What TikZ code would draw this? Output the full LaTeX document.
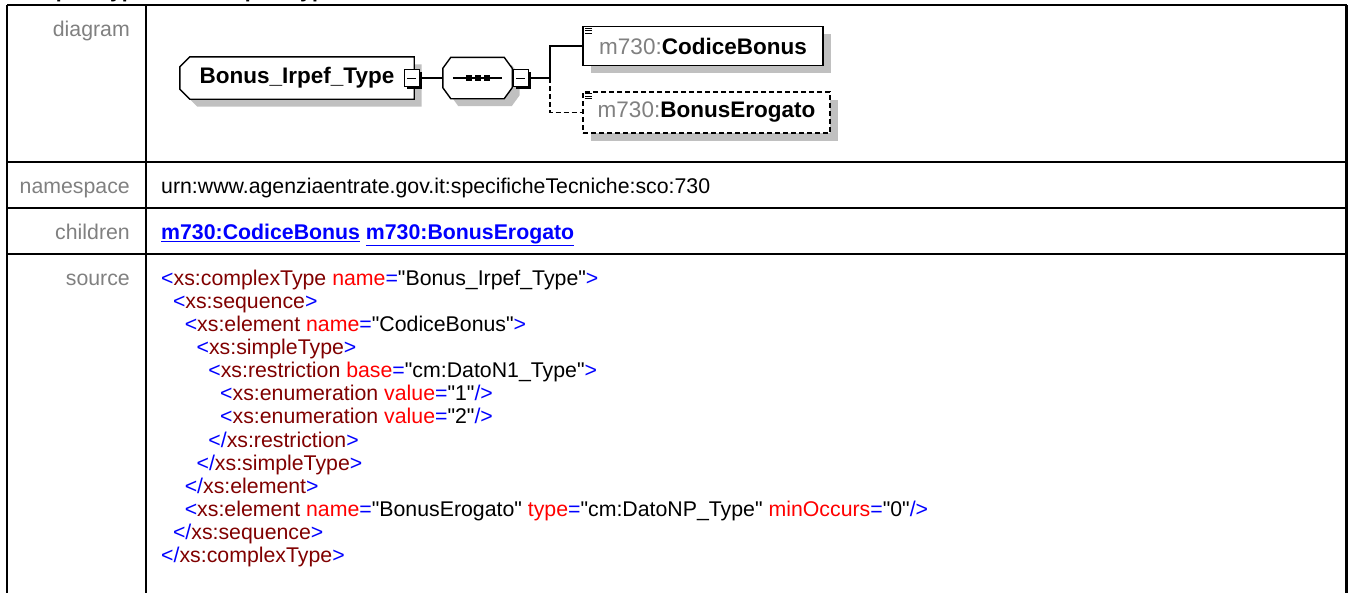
\documentclass[tikz,border=0pt]{standalone}
\usepackage{fontspec}
\newfontfamily\arialf{Liberation Sans}
\usetikzlibrary{positioning,shadows,backgrounds}

\definecolor{lblgray}{HTML}{808080}
\definecolor{tagred}{HTML}{800000}
\definecolor{attred}{HTML}{FF0000}
\definecolor{xmlblue}{HTML}{0000FF}
\definecolor{shade}{HTML}{C0C0C0}

\newcommand\tabfont{\arialf\fontsize{21.3}{23.15}\selectfont}
\newcommand\dgmfont{\arialf\fontsize{22.5}{27}\selectfont}
\newcommand\xp[1]{\textcolor{xmlblue}{#1}}
\newcommand\xt[1]{\textcolor{tagred}{#1}}
\newcommand\xa[1]{\textcolor{attred}{#1}}
\newlength\indw
\setlength\indw{11.8pt}
\newcommand\ind[1]{\hspace*{#1\indw}}
\newcommand\lnk[1]{\textcolor{xmlblue}{\bfseries\underline{#1}}}

\begin{document}
\begin{tikzpicture}[x=1pt, y=-1pt,
    grid/.style={line width=2.4pt},
    lbl/.style={anchor=base east, inner sep=0pt, text=lblgray, font=\tabfont},
    cell/.style={anchor=base west, inner sep=0pt, font=\tabfont, align=left},
    shd/.style={drop shadow={shadow xshift=7.5pt, shadow yshift=-7.5pt, fill=shade, opacity=1}},
    outline/.style={draw, line width=1.4pt, fill=white, shd},
    ctbox/.style={rectangle, font=\dgmfont\bfseries, minimum width=234pt, minimum height=42pt, inner sep=0pt},
    seqbox/.style={rectangle, minimum width=69pt, minimum height=41pt, inner sep=0pt},
    toggle/.style={rectangle, draw, line width=1pt, fill=white, minimum width=15pt, minimum height=17pt,
      inner sep=0pt, drop shadow={shadow xshift=2.5pt, shadow yshift=-2.5pt, fill=black, opacity=1}},
    elem/.style={rectangle, draw, line width=1.6pt, fill=white, shd, font=\dgmfont\bfseries,
      minimum height=39pt, inner sep=0pt},
    optional/.style={dash pattern=on 5pt off 3pt},
    conn/.style={line width=1.6pt}
  ]
    \useasboundingbox (0,0) rectangle (1348,592);

    % table
    \draw[grid] (7,5) -- (1346.5,5);
    \foreach \x in {7,146,1346.5} \draw[grid] (\x,5) -- (\x,595);
    \foreach \y in {162,208,254} \draw[grid] (7,\y) -- (1346.5,\y);

    \node[cell, font=\tabfont\bfseries] (hd) at (12,-2.5) {complexType Bonus\_Irpef\_Type};

    \node[lbl] (ldgm) at (130,36)    {diagram};
    \node[lbl] (lns)  at (130,193.3) {namespace};
    \node[lbl] (lch)  at (130,239.3) {children};
    \node[lbl] (lsrc) at (130,285)   {source};

    \node[cell] (ns) at (161,193.3) {urn:www.agenziaentrate.gov.it:specificheTecniche:sco:730};
    \node[cell] (ch) at (161,239.3) {\lnk{m730:CodiceBonus} \lnk{m730:BonusErogato}};

    % multi-line node: base is the last line
    \node[cell] (src) at (161,562.8) {%
      \xp{<}\xt{xs:complexType} \xa{name}\xp{=}"Bonus\_Irpef\_Type"\xp{>}\\
      \ind1\xp{<}\xt{xs:sequence}\xp{>}\\
      \ind2\xp{<}\xt{xs:element} \xa{name}\xp{=}"CodiceBonus"\xp{>}\\
      \ind3\xp{<}\xt{xs:simpleType}\xp{>}\\
      \ind4\xp{<}\xt{xs:restriction} \xa{base}\xp{=}"cm:DatoN1\_Type"\xp{>}\\
      \ind5\xp{<}\xt{xs:enumeration} \xa{value}\xp{=}"1"\xp{/>}\\
      \ind5\xp{<}\xt{xs:enumeration} \xa{value}\xp{=}"2"\xp{/>}\\
      \ind4\xp{</}\xt{xs:restriction}\xp{>}\\
      \ind3\xp{</}\xt{xs:simpleType}\xp{>}\\
      \ind2\xp{</}\xt{xs:element}\xp{>}\\
      \ind2\xp{<}\xt{xs:element} \xa{name}\xp{=}"BonusErogato" \xa{type}\xp{=}"cm:DatoNP\_Type" \xa{minOccurs}\xp{=}"0"\xp{/>}\\
      \ind1\xp{</}\xt{xs:sequence}\xp{>}\\
      \xp{</}\xt{xs:complexType}\xp{>}};

    % diagram
    \coordinate (jn) at (550,78);
    \node[ctbox] (ct) at (297,78) {Bonus\_Irpef\_Type\hspace{15pt}};
    \node[seqbox] (seq) at (477.5,78) {};
    \begin{scope}[on background layer]
      \path[outline] ([xshift=10pt]ct.north west) -- (ct.north east) -- (ct.south east)
        -- ([xshift=10pt]ct.south west) -- ([yshift=10pt]ct.south west)
        -- ([yshift=-10pt]ct.north west) -- cycle;
      \path[outline] ([xshift=8pt]seq.north west) -- ([xshift=-8pt]seq.north east)
        -- ([yshift=-11pt]seq.north east) -- ([yshift=11pt]seq.south east)
        -- ([xshift=-8pt]seq.south east) -- ([xshift=8pt]seq.south west)
        -- ([yshift=11pt]seq.south west) -- ([yshift=-11pt]seq.north west) -- cycle;
    \end{scope}
    \node[toggle] (tg1) at (411.5,78) {};
    \node[toggle] (tg2) at (520.5,78) {};
    \node[elem, minimum width=240pt] (cb) at (703,46)
      {{\mdseries\color{lblgray}m730:}CodiceBonus};
    \node[elem, optional, minimum width=247pt, minimum height=41pt] (be) at (706.5,112.5)
      {{\mdseries\color{lblgray}m730:}BonusErogato};

    \draw[conn] (tg1.east) -- (seq.west);
    \draw[conn] (tg2.east) -- (jn);
    \draw[conn] (jn) |- (cb.west);
    \draw[conn, optional] (jn) |- (be.west);

    % collapse marks, sequence symbol, element icons
    \foreach \t in {tg1,tg2} \draw[line width=1pt] ([xshift=-4.5pt]\t.center) -- ([xshift=4.5pt]\t.center);
    \draw[line width=1.4pt] ([xshift=10pt]seq.west) -- ([xshift=-10pt]seq.east);
    \foreach \d in {-9,0,9} \fill ([xshift=\d pt]seq.center) +(-3,-3) rectangle +(3,3);
    \foreach \e in {cb,be}
      \foreach \yy in {2.5,5,7.5}
        \draw[line width=1pt] ([xshift=3pt,yshift=-\yy pt]\e.north west) -- ++(7,0);
  \end{tikzpicture}
\end{document}
